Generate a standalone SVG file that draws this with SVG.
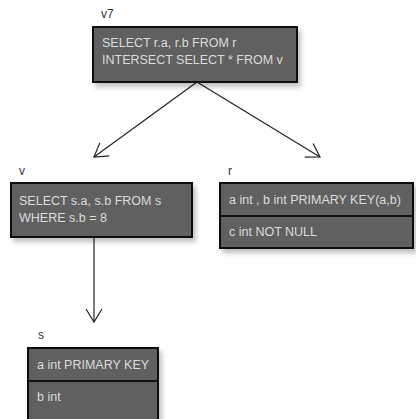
<svg xmlns="http://www.w3.org/2000/svg" width="416" height="419" viewBox="0 0 416 419">
  <defs>
    <filter id="shadow" x="-10%" y="-10%" width="130%" height="140%">
      <feDropShadow dx="3" dy="4" stdDeviation="2.5" flood-color="#000" flood-opacity="0.25"/>
    </filter>
    <marker id="open-arrow" viewBox="0 0 16 18" refX="14" refY="9" markerWidth="16" markerHeight="18" markerUnits="userSpaceOnUse" orient="auto">
      <path d="M1,1 L14,9 L1,17" fill="none" stroke="#222" stroke-width="1.2"/>
    </marker>
    <style>
      .box { fill: #616161; stroke: #111; stroke-width: 2; filter: url(#shadow); }
      .div { stroke: #111; stroke-width: 2; }
      .body { font-family: "Liberation Sans", Arial, sans-serif; font-size: 12.5px; fill: #dcdcdc; }
      .name { font-family: "Liberation Sans", Arial, sans-serif; font-size: 12px; fill: #333; }
      .edge { fill: none; stroke: #222; stroke-width: 1.2; marker-end: url(#open-arrow); }
    </style>
  </defs>

  <!-- connectors -->
  <g id="edges">
    <line class="edge" x1="197" y1="82" x2="94" y2="157"/>
    <line class="edge" x1="197" y1="82" x2="320" y2="157"/>
    <line class="edge" x1="94" y1="237" x2="94" y2="322"/>
  </g>

  <!-- view v7 -->
  <g id="v7">
    <text class="name" x="101" y="18">v7</text>
    <rect class="box" x="93" y="27" width="204" height="55"/>
    <text class="body" x="102" y="47">SELECT r.a, r.b FROM r</text>
    <text class="body" x="102" y="64">INTERSECT SELECT * FROM v</text>
  </g>

  <!-- view v -->
  <g id="v">
    <text class="name" x="19" y="175">v</text>
    <rect class="box" x="11" y="183" width="181" height="54"/>
    <text class="body" x="19" y="205">SELECT s.a, s.b FROM s</text>
    <text class="body" x="19" y="222">WHERE s.b = 8</text>
  </g>

  <!-- table r -->
  <g id="r">
    <text class="name" x="228" y="175">r</text>
    <rect class="box" x="220" y="183" width="193" height="65"/>
    <line class="div" x1="220" y1="216" x2="413" y2="216"/>
    <text class="body" x="229" y="204">a int , b int PRIMARY KEY(a,b)</text>
    <text class="body" x="229" y="236">c int NOT NULL</text>
  </g>

  <!-- table s -->
  <g id="s">
    <text class="name" x="38" y="339">s</text>
    <rect class="box" x="28" y="348" width="130" height="80"/>
    <line class="div" x1="28" y1="381" x2="158" y2="381"/>
    <text class="body" x="37" y="369">a int PRIMARY KEY</text>
    <text class="body" x="37" y="401">b int</text>
  </g>
</svg>
